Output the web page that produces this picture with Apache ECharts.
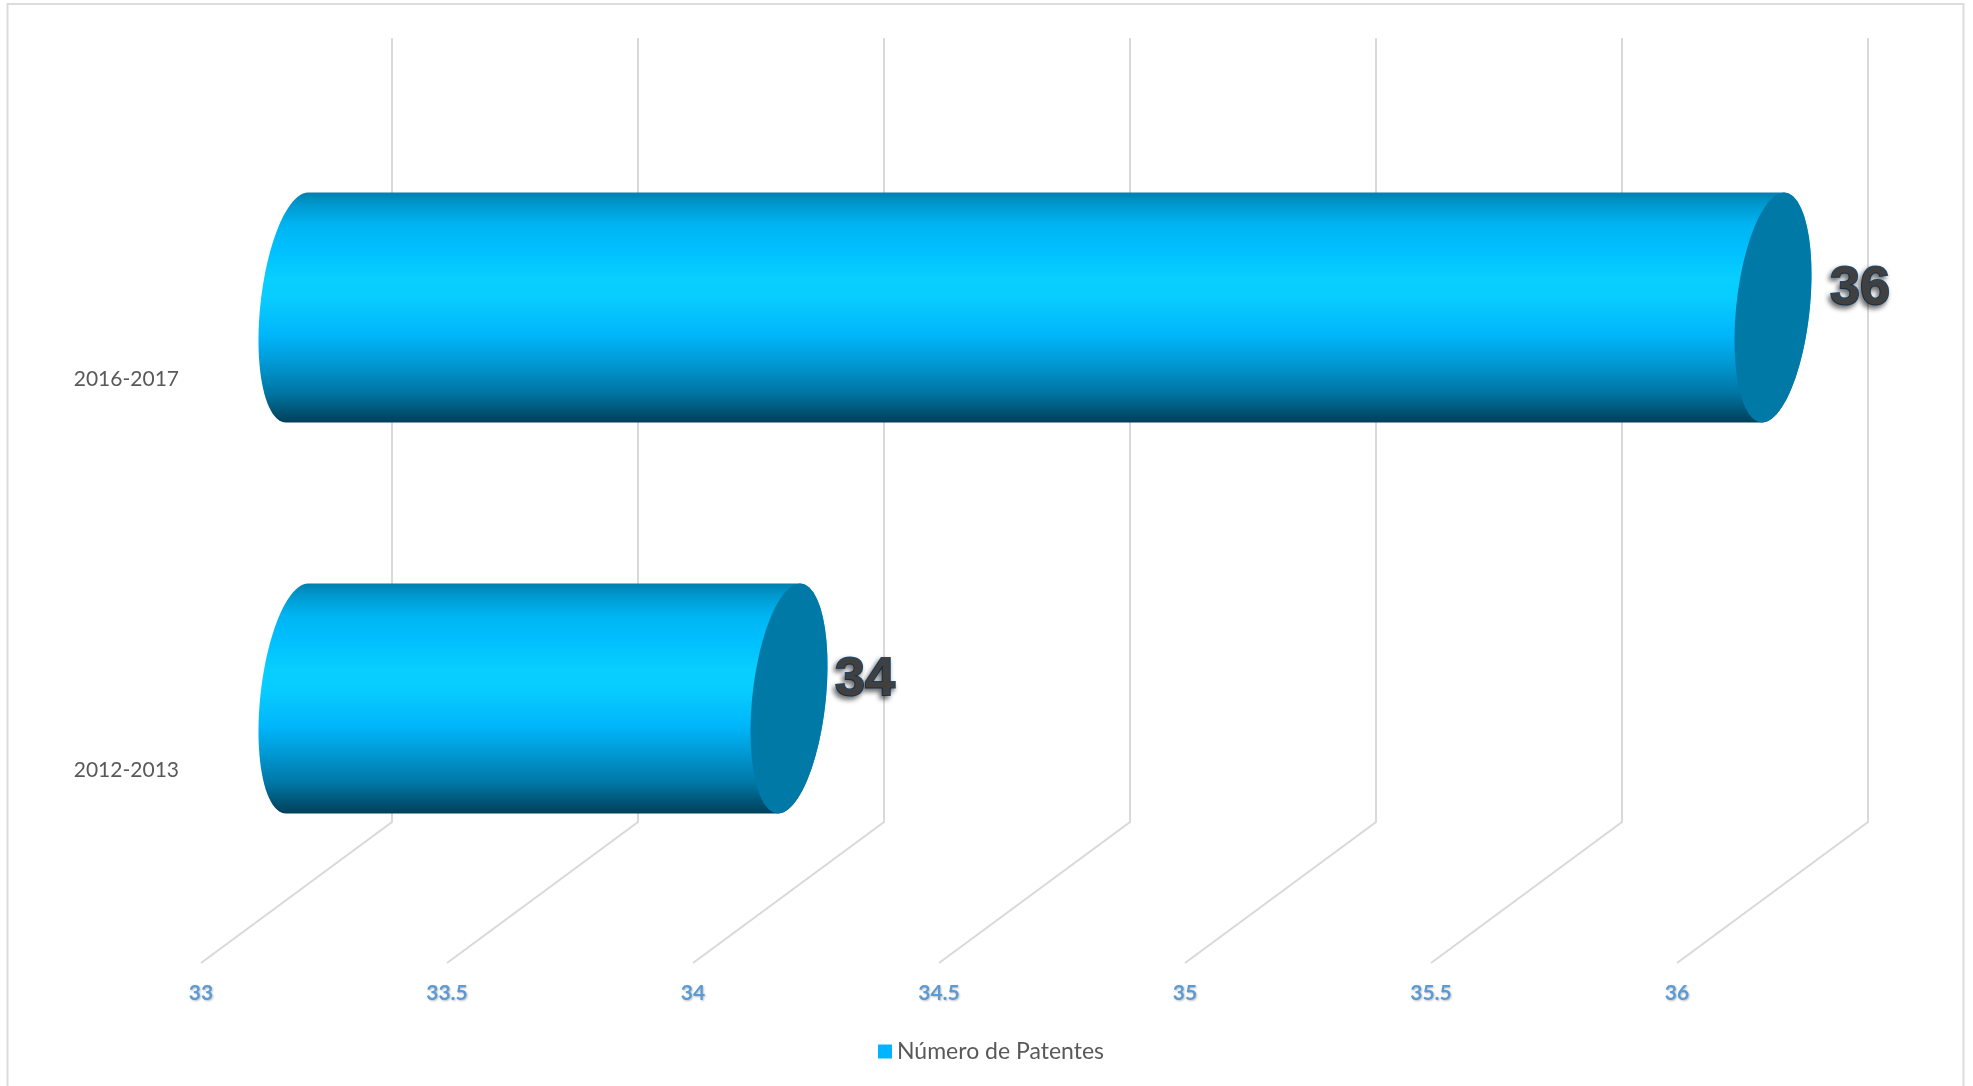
<!DOCTYPE html>
<html>
<head>
<meta charset="utf-8">
<style>html,body{margin:0;padding:0;background:#fff}#c{width:1973px;height:1086px}</style>
<script src="https://cdn.jsdelivr.net/npm/echarts@6/dist/echarts.min.js"></script>
</head>
<body>
<div id="c"></div>
<script>
const periods = ['2012-2013', '2016-2017'];
const patentes = [34, 36];
const xTicks = [33, 33.5, 34, 34.5, 35, 35.5, 36];
const seriesName = 'Número de Patentes';

const depthX = 191, depthY = 141, wallTop = 38, floorInset = 0.5;
const capA = 36.9, capB = -11;
const labelFont = 'Lato, "Noto Sans", sans-serif';

function capPoints(cx, cy, H, from, to) {
  const pts = [], n = 48;
  for (let i = 0; i <= n; i++) {
    const t = from + (to - from) * i / n;
    pts.push([cx + capA * Math.cos(t) + capB * Math.sin(t), cy + H * Math.sin(t)]);
  }
  return pts;
}

const bodyGradient = new echarts.graphic.LinearGradient(0, 0, 0, 1, [
  { offset: 0, color: '#0080AE' },
  { offset: 0.05, color: '#0098CE' },
  { offset: 0.14, color: '#00B4F2' },
  { offset: 0.25, color: '#00C0FF' },
  { offset: 0.38, color: '#08CFFF' },
  { offset: 0.46, color: '#08CCFF' },
  { offset: 0.62, color: '#00B6FA' },
  { offset: 0.74, color: '#0099D4' },
  { offset: 0.87, color: '#0076A4' },
  { offset: 0.96, color: '#005070' },
  { offset: 1, color: '#00405A' }
]);

const chart = echarts.init(document.getElementById('c'), null, { renderer: 'canvas' });
chart.setOption({
  animation: false,
  backgroundColor: '#ffffff',
  graphic: [{
    type: 'rect', silent: true, z: 0,
    shape: { x: 7.5, y: 4, width: 1956, height: 1100 },
    style: { fill: 'none', stroke: '#DCDCDC', lineWidth: 2 }
  }],
  grid: { left: 201, width: 1476, top: 181.5, height: 782 },
  legend: {
    data: [{ name: seriesName, icon: 'rect', itemStyle: { color: '#00B4FF' } }],
    left: 873, top: 1035, itemWidth: 14, itemHeight: 14, itemGap: 5,
    textStyle: { color: '#595959', fontSize: 23, fontFamily: labelFont }
  },
  xAxis: {
    type: 'value', min: 33, max: 36, interval: 0.5,
    axisLine: { show: false }, axisTick: { show: false }, splitLine: { show: false },
    axisLabel: {
      color: '#5B9BD5', fontSize: 21, fontWeight: 700, fontFamily: labelFont, margin: 19,
      textShadowColor: 'rgba(0,0,0,0.25)', textShadowBlur: 2, textShadowOffsetX: 1, textShadowOffsetY: 1
    }
  },
  yAxis: {
    type: 'category', data: periods,
    axisLine: { show: false }, axisTick: { show: false }, splitLine: { show: false },
    axisLabel: { color: '#595959', fontSize: 21, fontFamily: labelFont, margin: 22, verticalAlign: 'top', lineHeight: 5 }
  },
  series: [
    {
      name: 'guías', type: 'custom', silent: true, z: 1, clip: false,
      coordinateSystem: 'cartesian2d',
      encode: { x: 0 },
      data: xTicks.map(v => [v]),
      renderItem(params, api) {
        const x = api.coord([api.value(0), 0])[0];
        const y = params.coordSys.y + params.coordSys.height - floorInset;
        return {
          type: 'polyline',
          shape: { points: [[x, y], [x + depthX, y - depthY], [x + depthX, wallTop]] },
          style: { fill: 'none', stroke: '#D9D9D9', lineWidth: 2 }
        };
      }
    },
    {
      name: seriesName, type: 'custom', z: 5, clip: false,
      coordinateSystem: 'cartesian2d',
      itemStyle: { color: '#00B4FF' },
      encode: { x: 0, y: 1 },
      data: patentes.map((v, i) => [v, i]),
      renderItem(params, api) {
        const end = api.coord([api.value(0), api.value(1)]);
        const start = api.coord([33, api.value(1)]);
        const H = api.size([0, 1])[1] * 0.294;
        const cy = end[1] - depthY / 2 + 1;
        const x1 = start[0] + depthX / 2 + 0.5, x2 = end[0] + depthX / 2 + 0.5;
        const PI = Math.PI;
        const body = capPoints(x1, cy, H, PI / 2, 3 * PI / 2)
          .concat(capPoints(x2, cy, H, -PI / 2, PI / 2));
        const nudge = params.dataIndex === 1 ? 11 : 0;
        return {
          type: 'group',
          children: [
            {
              type: 'polygon', shape: { points: body },
              style: { fill: bodyGradient }
            },
            {
              type: 'polygon', shape: { points: capPoints(x2, cy, H, 0, 2 * PI) },
              style: { fill: '#0079A6' }
            },
            {
              type: 'text',
              style: {
                x: x2 + 76 + nudge, y: cy - 18,
                text: String(api.value(0)),
                align: 'center', verticalAlign: 'middle',
                fontSize: 54, fontWeight: 'bold', fontFamily: '"Liberation Sans", Arial, sans-serif',
                fill: '#404040', stroke: '#1F4E79', lineWidth: 2,
                textShadowColor: 'rgba(0,0,0,0.55)', textShadowBlur: 5, textShadowOffsetX: -2, textShadowOffsetY: 3
              }
            }
          ]
        };
      }
    }
  ]
});
</script>
</body>
</html>
